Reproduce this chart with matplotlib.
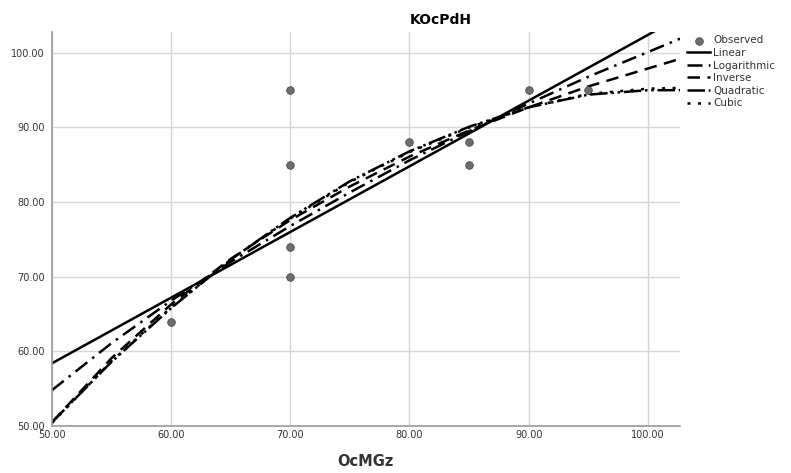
import numpy as np
import matplotlib
matplotlib.use('Agg')
import matplotlib.pyplot as plt

# observed points
obs_x = [60, 70, 70, 70, 70, 80, 85, 85, 90, 95]
obs_y = [64, 95, 85, 74, 70, 88, 88, 85, 95, 95]

# fitted curves, values
fit_x = [50, 55, 60, 65, 70, 75, 80, 85, 90, 95, 100, 102.7]
linear = [58.4, 62.8, 67.2, 71.6, 76.0, 80.4, 84.8, 89.2, 93.6, 98.0, 102.4, 104.8]
logarithmic = [54.8, 61.1, 66.8, 72.0, 76.8, 81.3, 85.6, 89.5, 93.2, 96.8, 100.1, 101.9]
inverse = [50.5, 59.1, 66.3, 72.4, 77.6, 82.1, 86.1, 89.6, 92.7, 95.5, 97.9, 99.2]
quadratic = [50.5, 58.6, 65.8, 72.3, 77.9, 82.8, 86.8, 90.1, 92.7, 94.4, 95.0, 95.0]
cubic = [50.4, 58.7, 65.9, 72.3, 77.8, 82.7, 86.7, 90.0, 92.7, 94.5, 95.2, 95.3]

ticks = [50, 60, 70, 80, 90, 100]

fig = plt.figure(figsize=(7.91, 4.73), dpi=100)
ax = fig.add_axes([0.0657, 0.0994, 0.794, 0.833])

ax.scatter(obs_x, obs_y, s=30, c='#6e6e6e', edgecolors='#4a4a4a', linewidths=0.6,
           zorder=3, label='Observed')
ax.plot(fit_x, linear, color='black', lw=1.8, label='Linear')
ax.plot(fit_x, logarithmic, color='black', lw=1.8, dashes=(6, 2.5, 1, 2.5), label='Logarithmic')
ax.plot(fit_x, inverse, color='black', lw=1.8, dashes=(5, 3), label='Inverse')
ax.plot(fit_x, quadratic, color='black', lw=1.8, dashes=(7, 1.5, 1, 1.5, 1, 1.5), label='Quadratic')
ax.plot(fit_x, cubic, color='black', lw=1.8, dashes=(1.2, 3), label='Cubic')

ax.set_xlim(50, 102.7)
ax.set_ylim(50, 102.8)
ax.set_xticks(ticks)
ax.set_yticks(ticks)
ax.set_xticklabels(['{:.2f}'.format(t) for t in ticks])
ax.set_yticklabels(['{:.2f}'.format(t) for t in ticks])
ax.tick_params(length=0, labelsize=7, colors='#333333')
ax.tick_params(axis='x', pad=3)
ax.tick_params(axis='y', pad=5)
ax.grid(True, color='#d6d6d6', lw=1)
ax.set_axisbelow(True)
for s in ['top', 'right']:
    ax.spines[s].set_visible(False)
for s in ['left', 'bottom']:
    ax.spines[s].set_color('#9a9a9a')
    ax.spines[s].set_linewidth(1.2)

fig.text(441/791, 1 - 20/473, 'KOcPdH', ha='center', va='center', fontsize=10, fontweight='bold')
fig.text(365/791, 1 - 461/473, 'OcMGz', ha='center', va='center', fontsize=10.5, fontweight='bold',
         color='#333333')

leg = ax.legend(loc='upper left', bbox_to_anchor=(1.0, 1.01), frameon=False, fontsize=7.5,
                handlelength=2.2, handletextpad=0.3, labelspacing=0.25, borderaxespad=0.3)
for t in leg.get_texts():
    t.set_color('#333333')

fig.savefig('out.png', dpi=100)
